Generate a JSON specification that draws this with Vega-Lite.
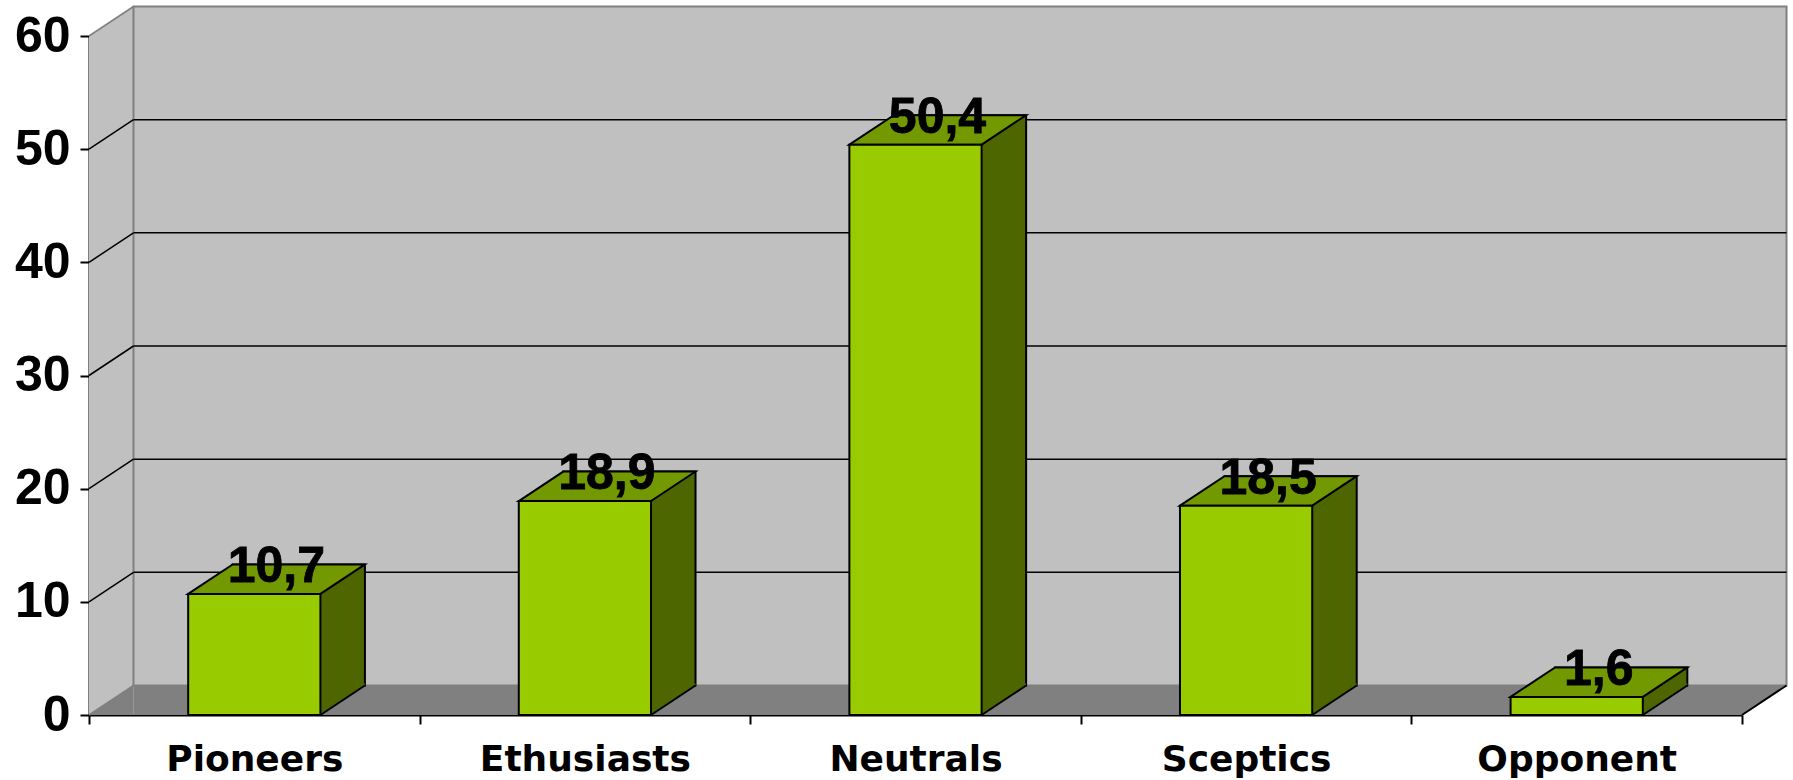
{
  "$schema": "https://vega.github.io/schema/vega-lite/v6.json",
  "width": 1653,
  "height": 679,
  "autosize": {"type": "none"},
  "padding": {"left": 89, "top": 36, "right": 51, "bottom": 65},
  "background": "white",
  "config": {
    "view": {"stroke": null},
    "locale": {"number": {"decimal": ",", "thousands": ".", "grouping": [3], "currency": ["", " €"]}},
    "axis": {"grid": false, "domainColor": "black", "domainWidth": 2, "tickColor": "black", "tickWidth": 2, "tickSize": 9, "labelColor": "black", "labelFontWeight": "bold", "labelLimit": 0, "zindex": 1},
    "axisX": {"labelFont": "DejaVu Sans", "labelFontSize": 36, "labelPadding": 18, "labelAngle": 0},
    "axisY": {"labelFont": "Liberation Sans", "labelFontSize": 50, "labelPadding": 10}
  },
  "datasets": {
    "bars": [
      {"group": "Pioneers", "share": 10.7},
      {"group": "Ethusiasts", "share": 18.9},
      {"group": "Neutrals", "share": 50.4},
      {"group": "Sceptics", "share": 18.5},
      {"group": "Opponent", "share": 1.6}
    ],
    "ticks": [{"v": 0}, {"v": 10}, {"v": 20}, {"v": 30}, {"v": 40}, {"v": 50}, {"v": 60}]
  },
  "data": {"name": "bars"},
  "layer": [
    {
      "data": {"values": [{}]},
      "mark": {"type": "rect", "fill": "#C0C0C0"},
      "encoding": {"x": {"value": 0}, "x2": {"value": 44.5}, "y": {"datum": 60}, "y2": {"datum": 0}}
    },
    {
      "data": {"values": [{}]},
      "mark": {"type": "point", "shape": "M0,0L44.5,-29.5L44.5,0Z", "size": 4, "filled": true, "fill": "#C0C0C0", "strokeWidth": 0, "opacity": 1},
      "encoding": {"x": {"value": 0}, "y": {"datum": 60}}
    },
    {
      "data": {"values": [{}]},
      "mark": {"type": "rect", "fill": "#808080", "y2Offset": -29.5},
      "encoding": {"x": {"value": 44.5}, "x2": {"value": "width"}, "y": {"datum": 0}, "y2": {"datum": 0}}
    },
    {
      "data": {"values": [{}]},
      "mark": {"type": "point", "shape": "M0,0L44.5,-29.5L44.5,0Z", "size": 4, "filled": true, "fill": "#808080", "strokeWidth": 0, "opacity": 1},
      "encoding": {"x": {"value": 0}, "y": {"datum": 0}}
    },
    {
      "data": {"values": [{}]},
      "mark": {"type": "point", "shape": "M0,0L0,-29.5L44.5,-29.5Z", "size": 4, "filled": true, "fill": "#808080", "strokeWidth": 0, "opacity": 1},
      "encoding": {"x": {"value": "width"}, "y": {"datum": 0}}
    },
    {
      "data": {"values": [{}]},
      "mark": {"type": "rect", "fill": "#C0C0C0", "stroke": "#808080", "strokeWidth": 2, "xOffset": 44.5, "x2Offset": 44.5, "yOffset": -29.5, "y2Offset": -29.5},
      "encoding": {"x": {"value": 0}, "x2": {"value": "width"}, "y": {"datum": 60}, "y2": {"datum": 0}}
    },
    {
      "data": {"name": "ticks"},
      "transform": [{"filter": "datum.v > 0 && datum.v < 60"}],
      "mark": {"type": "rule", "stroke": "black", "strokeWidth": 1.5, "xOffset": 44.5, "x2Offset": 44.5, "yOffset": -29.5},
      "encoding": {"x": {"value": 0}, "x2": {"value": "width"}, "y": {"field": "v", "type": "quantitative", "title": null}}
    },
    {
      "data": {"name": "ticks"},
      "mark": {"type": "rule", "strokeWidth": 1.5, "y2Offset": -29.5},
      "encoding": {
        "x": {"value": 0},
        "x2": {"value": 44.5},
        "y": {"field": "v", "type": "quantitative", "title": null},
        "y2": {"field": "v"},
        "stroke": {"condition": {"test": "datum.v == 0 || datum.v == 60", "value": "#808080"}, "value": "black"}
      }
    },
    {
      "data": {"values": [{}]},
      "mark": {"type": "point", "shape": "M0,0L44.5,-29.5", "size": 4, "filled": false, "fill": null, "stroke": "black", "strokeWidth": 2, "opacity": 1},
      "encoding": {"x": {"value": "width"}, "y": {"datum": 0}}
    },
    {
      "mark": {"type": "bar", "width": {"band": 0.4}, "fill": "#4D6600", "stroke": "black", "strokeWidth": 2, "xOffset": 44.5, "x2Offset": 44.5, "yOffset": -29.5, "y2Offset": -29.5},
      "encoding": {
        "x": {
          "field": "group", "type": "nominal", "sort": null, "title": null,
          "scale": {"type": "band", "paddingInner": 0, "paddingOuter": 0},
          "axis": {"tickBand": "extent"}
        },
        "y": {
          "field": "share", "type": "quantitative", "title": null,
          "scale": {"domain": [0, 60], "nice": false},
          "axis": {"values": [0, 10, 20, 30, 40, 50, 60]}
        },
        "y2": {"datum": 0}
      }
    },
    {
      "mark": {"type": "point", "shape": "M0,0L44.5,-29.5L44.5,-31.5L0,-31.5Z", "size": 4, "filled": true, "fill": "#4D6600", "strokeWidth": 0, "opacity": 1},
      "encoding": {"x": {"field": "group", "type": "nominal", "sort": null, "bandPosition": 0.7, "title": null}, "y": {"datum": 0}}
    },
    {
      "mark": {"type": "point", "shape": "M0,0L44.5,-29.5", "size": 4, "filled": false, "fill": null, "stroke": "black", "strokeWidth": 2, "opacity": 1},
      "encoding": {"x": {"field": "group", "type": "nominal", "sort": null, "bandPosition": 0.7, "title": null}, "y": {"datum": 0}}
    },
    {
      "mark": {"type": "point", "shape": "M0,0L44.5,-29.5L176.74,-29.5L132.24,0Z", "size": 4, "filled": true, "fill": "#739900", "stroke": "black", "strokeWidth": 2, "opacity": 1},
      "encoding": {"x": {"field": "group", "type": "nominal", "sort": null, "bandPosition": 0.3, "title": null}, "y": {"field": "share", "type": "quantitative", "title": null}}
    },
    {
      "mark": {"type": "bar", "width": {"band": 0.4}, "fill": "#99CC00", "stroke": "black", "strokeWidth": 2},
      "encoding": {
        "x": {"field": "group", "type": "nominal", "sort": null, "title": null},
        "y": {"field": "share", "type": "quantitative", "title": null},
        "y2": {"datum": 0}
      }
    },
    {
      "mark": {"type": "text", "font": "Liberation Sans", "fontWeight": "bold", "fontSize": 50, "color": "black", "stroke": "black", "strokeWidth": 0.8, "align": "center", "baseline": "alphabetic", "dx": 22, "dy": -12},
      "encoding": {
        "x": {"field": "group", "type": "nominal", "sort": null, "title": null},
        "y": {"field": "share", "type": "quantitative", "title": null},
        "text": {"field": "share", "type": "quantitative", "format": ".1f"}
      }
    }
  ]
}
